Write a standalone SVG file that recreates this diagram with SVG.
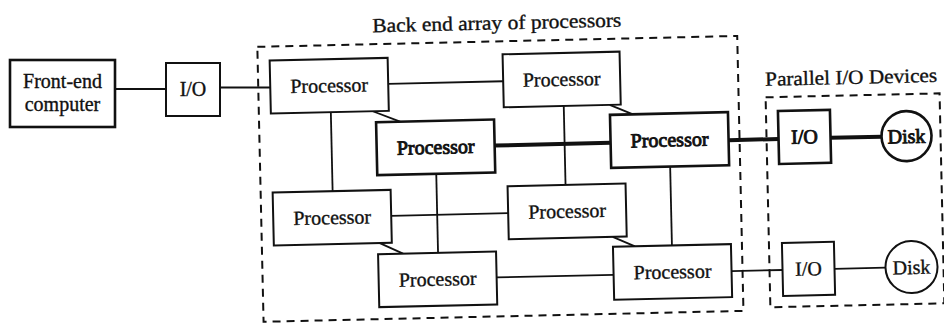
<svg xmlns="http://www.w3.org/2000/svg" width="944" height="324" viewBox="0 0 944 324">
<style>
.box{fill:#fff;stroke:#111;stroke-width:2}
.heavy{stroke-width:2.6}
.ln{stroke:#111;stroke-width:1.8;fill:none}
.thick{stroke:#111;stroke-width:4;fill:none}
.dash{fill:none;stroke:#111;stroke-width:2;stroke-dasharray:8 6}
.t{font-family:"Liberation Serif","Times New Roman",serif;font-size:20px;fill:#111;stroke:#111;stroke-width:0.35;text-anchor:middle}
.b{stroke-width:0.9}
</style>
<rect width="944" height="324" fill="#fff"/>
<g id="backend-frame" transform="rotate(-1.3 472 162)">
  <rect class="dash" x="260" y="42" width="480" height="275"/>
  <text class="t" x="500" y="30" textLength="249" lengthAdjust="spacingAndGlyphs">Back end array of processors</text>
</g>
<g id="parallel-io-frame" transform="rotate(-1.3 472 162)">
  <rect class="dash" x="767" y="104" width="174" height="210"/>
  <text class="t" x="853" y="92.5" textLength="172" lengthAdjust="spacingAndGlyphs">Parallel I/O Devices</text>
</g>
<g id="connectors">
  <line class="ln" x1="115" y1="89" x2="166" y2="89"/>
  <line class="ln" x1="220" y1="87.5" x2="271" y2="87.5"/>
  <g transform="rotate(-1.3 472 162)">
    <line class="ln" x1="390" y1="82" x2="505" y2="82"/>
    <line class="ln" x1="332" y1="109" x2="332" y2="188"/>
    <line class="ln" x1="374" y1="109" x2="401" y2="120"/>
    <line class="thick" x1="495" y1="146" x2="611" y2="146"/>
    <line class="ln" x1="565" y1="108" x2="565" y2="187"/>
    <line class="ln" x1="611" y1="108" x2="634" y2="118"/>
    <line class="ln" x1="436" y1="173" x2="436" y2="252"/>
    <line class="ln" x1="390" y1="214" x2="507" y2="214"/>
    <line class="ln" x1="378" y1="241" x2="401" y2="252"/>
    <line class="ln" x1="670" y1="171" x2="670" y2="250"/>
    <line class="ln" x1="611" y1="240" x2="633" y2="250"/>
    <line class="ln" x1="494" y1="278" x2="611" y2="278"/>
    <line class="thick" x1="729" y1="146" x2="779" y2="146"/>
    <line class="thick" x1="831" y1="146" x2="882" y2="146"/>
    <line class="ln" x1="729" y1="277" x2="780" y2="277"/>
    <line class="ln" x1="832" y1="277" x2="883" y2="277"/>
  </g>
</g>
<g id="front-end">
  <rect class="box heavy" x="10" y="60" width="105" height="67"/>
  <text class="t" x="62.5" y="88">Front-end</text>
  <text class="t" x="62.5" y="111">computer</text>
</g>
<g id="io-front">
  <rect class="box" x="166" y="63" width="54" height="53"/>
  <text class="t" x="193" y="96">I/O</text>
</g>
<g id="proc-1" transform="rotate(-1.3 472 162)">
  <rect class="box" x="272" y="56" width="118" height="53"/>
  <text class="t" x="331" y="89">Processor</text>
</g>
<g id="proc-2" transform="rotate(-1.3 472 162)">
  <rect class="box" x="505" y="55" width="117" height="53"/>
  <text class="t" x="563.5" y="88">Processor</text>
</g>
<g id="proc-3" transform="rotate(-1.3 472 162)">
  <rect class="box heavy" x="377" y="120" width="118" height="53"/>
  <text class="t b" x="436" y="153">Processor</text>
</g>
<g id="proc-4" transform="rotate(-1.3 472 162)">
  <rect class="box heavy" x="611" y="118" width="118" height="53"/>
  <text class="t b" x="670" y="151">Processor</text>
</g>
<g id="proc-5" transform="rotate(-1.3 472 162)">
  <rect class="box" x="272" y="188" width="118" height="53"/>
  <text class="t" x="331" y="221">Processor</text>
</g>
<g id="proc-6" transform="rotate(-1.3 472 162)">
  <rect class="box" x="507" y="187" width="118" height="53"/>
  <text class="t" x="566" y="220">Processor</text>
</g>
<g id="proc-7" transform="rotate(-1.3 472 162)">
  <rect class="box" x="376" y="252" width="118" height="53"/>
  <text class="t" x="435" y="285">Processor</text>
</g>
<g id="proc-8" transform="rotate(-1.3 472 162)">
  <rect class="box" x="611" y="250" width="118" height="53"/>
  <text class="t" x="670" y="283">Processor</text>
</g>
<g id="io-top" transform="rotate(-1.3 472 162)">
  <rect class="box heavy" x="779" y="118" width="52" height="53"/>
  <text class="t b" x="805" y="151">I/O</text>
</g>
<g id="disk-top" transform="rotate(-1.3 472 162)">
  <circle class="box heavy" cx="907" cy="146" r="25"/>
  <text class="t b" x="907" y="153">Disk</text>
</g>
<g id="io-bottom" transform="rotate(-1.3 472 162)">
  <rect class="box" x="780" y="250" width="52" height="53"/>
  <text class="t" x="806" y="283">I/O</text>
</g>
<g id="disk-bottom" transform="rotate(-1.3 472 162)">
  <circle class="box" cx="909" cy="277" r="26"/>
  <text class="t" x="909" y="284">Disk</text>
</g>
</svg>
